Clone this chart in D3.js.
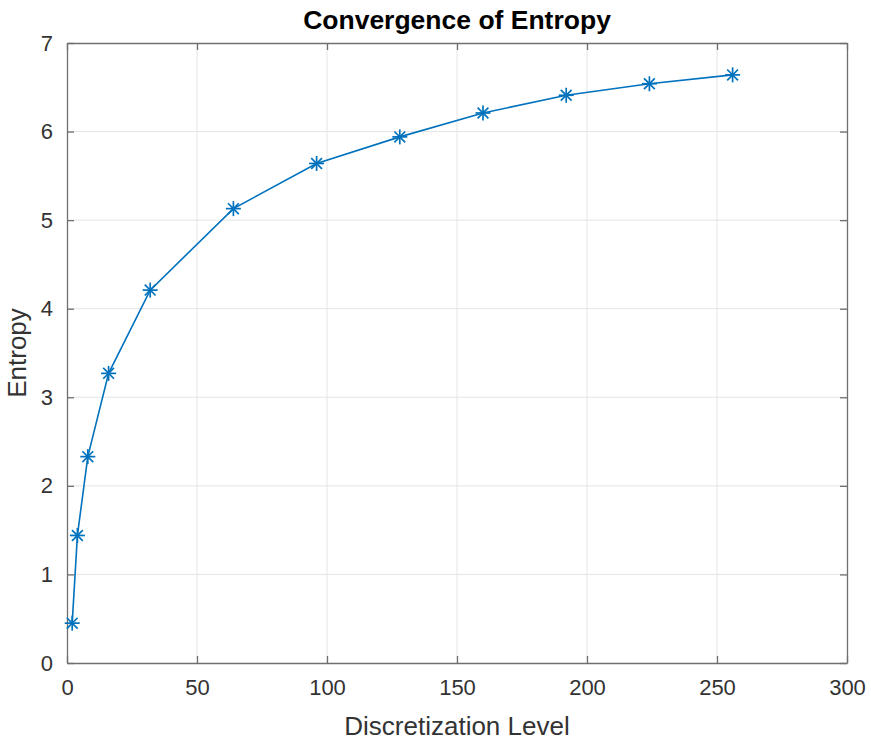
<!DOCTYPE html>
<html>
<head>
<meta charset="utf-8">
<script src="https://cdn.jsdelivr.net/npm/d3@7"></script>
<style>
  html, body { margin: 0; padding: 0; background: #fff; }
  svg { display: block; }
  text { font-family: "Liberation Sans", Arial, Helvetica, sans-serif; }
</style>
</head>
<body>
<svg id="chart" width="871" height="743"></svg>
<script>
// ---- data ----
const levels = [2, 4, 8, 16, 32, 64, 96, 128, 160, 192, 224, 256];
const entropy = [0.45, 1.44, 2.33, 3.27, 4.21, 5.13, 5.64, 5.94, 6.21, 6.41, 6.54, 6.64];
const xTicks = [0, 50, 100, 150, 200, 250, 300];
const yTicks = [0, 1, 2, 3, 4, 5, 6, 7];
const titleText = "Convergence of Entropy";
const xLabelText = "Discretization Level";
const yLabelText = "Entropy";

// ---- layout ----
const W = 871, H = 743;
const L = 67, R = 847, T = 43, B = 663;
const svg = d3.select("#chart");

const x = d3.scaleLinear().domain([0, 300]).range([L, R]);
const y = d3.scaleLinear().domain([0, 7]).range([B, T]);

const axisColor = "#6f6f6f";
const textColor = "#333333";
const gridColor = "#e4e4e4";
const lineColor = "#0072BD";
const tickLen = 7;

// grid
const grid = svg.append("g");
grid.selectAll(".gx").data(xTicks.slice(1, -1)).join("line")
  .attr("x1", d => x(d)).attr("x2", d => x(d))
  .attr("y1", T).attr("y2", B)
  .attr("stroke", gridColor).attr("stroke-width", 1);
grid.selectAll(".gy").data(yTicks.slice(1, -1)).join("line")
  .attr("x1", L).attr("x2", R)
  .attr("y1", d => y(d)).attr("y2", d => y(d))
  .attr("stroke", gridColor).attr("stroke-width", 1);

// axes via d3 axis (inward ticks)
const fmt = d3.format("d");
const xAxisB = d3.axisBottom(x).tickValues(xTicks).tickFormat(fmt).tickSizeInner(-tickLen).tickSizeOuter(0).tickPadding(16);
const yAxisL = d3.axisLeft(y).tickValues(yTicks).tickFormat(fmt).tickSizeInner(-tickLen).tickSizeOuter(0).tickPadding(14);
const xAxisT = d3.axisTop(x).tickValues(xTicks).tickSizeInner(-tickLen).tickSizeOuter(0).tickFormat("");
const yAxisR = d3.axisRight(y).tickValues(yTicks).tickSizeInner(-tickLen).tickSizeOuter(0).tickFormat("");

function styleAxis(g) {
  g.select(".domain").attr("stroke", axisColor).attr("stroke-width", 1.3);
  g.selectAll(".tick line").attr("stroke", axisColor).attr("stroke-width", 1.3);
  g.selectAll(".tick text").attr("fill", textColor)
    .style("font-size", "22px").style("font-family", "'Liberation Sans', Arial, sans-serif");
}

svg.append("g").attr("transform", `translate(0,${B})`).call(xAxisB).call(styleAxis);
svg.append("g").attr("transform", `translate(${L},0)`).call(yAxisL).call(styleAxis);
svg.append("g").attr("transform", `translate(0,${T})`).call(xAxisT).call(styleAxis);
svg.append("g").attr("transform", `translate(${R},0)`).call(yAxisR).call(styleAxis);

// line
const lineGen = d3.line().x((d, i) => x(levels[i])).y(d => y(d));
svg.append("path").datum(entropy)
  .attr("d", lineGen)
  .attr("fill", "none")
  .attr("stroke", lineColor)
  .attr("stroke-width", 1.6);

// asterisk markers
const ms = 7.5;
const marks = svg.append("g").selectAll("g").data(entropy).join("g")
  .attr("transform", (d, i) => `translate(${x(levels[i])},${y(d)})`);
const arms = [[-ms, 0, ms, 0], [0, -ms, 0, ms], [-ms * 0.72, -ms * 0.72, ms * 0.72, ms * 0.72], [-ms * 0.72, ms * 0.72, ms * 0.72, -ms * 0.72]];
arms.forEach(a => {
  marks.append("line")
    .attr("x1", a[0]).attr("y1", a[1]).attr("x2", a[2]).attr("y2", a[3])
    .attr("stroke", lineColor).attr("stroke-width", 1.7);
});

// title & labels
svg.append("text")
  .attr("x", (L + R) / 2).attr("y", 29)
  .attr("text-anchor", "middle")
  .style("font-size", "26.5px").style("font-weight", "bold")
  .attr("fill", "#000")
  .text(titleText);

svg.append("text")
  .attr("x", (L + R) / 2).attr("y", 735)
  .attr("text-anchor", "middle")
  .style("font-size", "26px")
  .attr("fill", textColor)
  .text(xLabelText);

svg.append("text")
  .attr("transform", `translate(26,${(T + B) / 2}) rotate(-90)`)
  .attr("text-anchor", "middle")
  .style("font-size", "26px")
  .attr("fill", textColor)
  .text(yLabelText);
</script>
</body>
</html>
